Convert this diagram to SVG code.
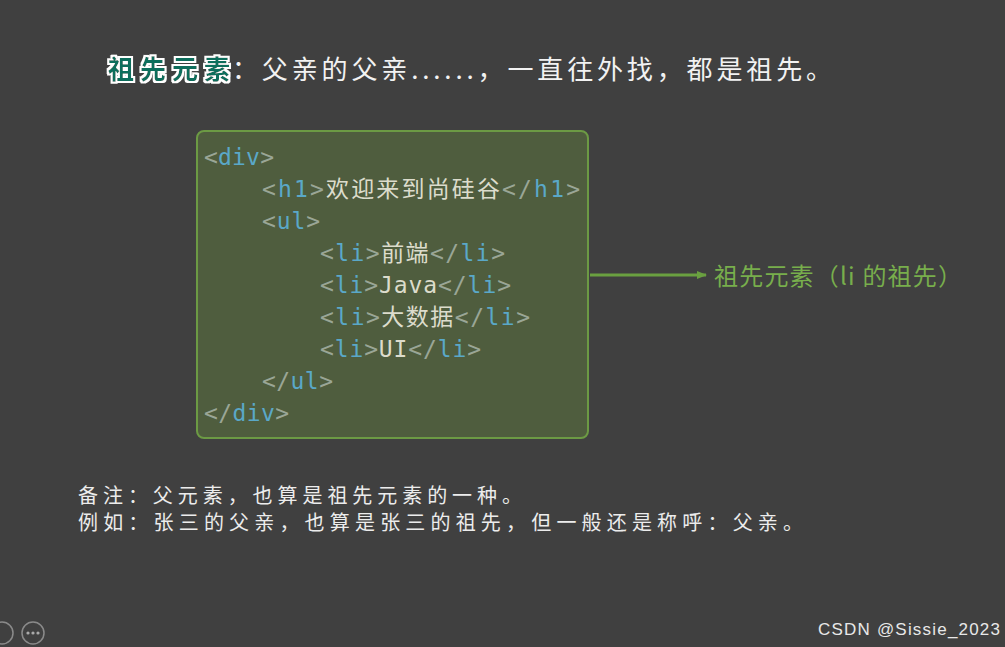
<svg xmlns="http://www.w3.org/2000/svg" width="1005" height="647" viewBox="0 0 1005 647">
<style>
.c{font-family:"DejaVu Sans Mono","Noto Sans CJK SC",monospace;font-size:23px}
.b{fill:#9aa696}.t{fill:#5aa8c8}.x{fill:#dcdccc}
.n{font-family:"Noto Sans CJK SC",sans-serif;font-size:20px;fill:#ececec}
</style>
<defs><marker id="ah" markerWidth="10" markerHeight="8" refX="9" refY="4" orient="auto" markerUnits="userSpaceOnUse"><path d="M0,0L10,4L0,8z" fill="#6aa040"/></marker>
<filter id="glow"><feMorphology in="SourceAlpha" operator="dilate" radius="2" result="d"/><feFlood flood-color="#ffffff"/><feComposite in2="d" operator="in" result="w"/><feMerge><feMergeNode in="w"/><feMergeNode in="SourceGraphic"/></feMerge></filter></defs>
<rect width="1005" height="647" fill="#404040"/>
<g id="title" font-family="Noto Sans CJK SC,sans-serif" font-size="26">
<text x="108" y="79" font-weight="bold" fill="#0a6e5c" filter="url(#glow)" textLength="122">祖先元素</text>
<text x="232" y="79" fill="#f2f2f2" textLength="600">：父亲的父亲......，一直往外找，都是祖先。</text>
</g>
<g id="codebox">
<rect x="197" y="131" width="391" height="307" rx="7" fill="#4f5d3e" stroke="#6c9a44" stroke-width="2"/>
<text class="c" x="204" y="165" textLength="70"><tspan class="b">&lt;</tspan><tspan class="t">div</tspan><tspan class="b">&gt;</tspan></text>
<text class="c" x="262" y="197" textLength="318"><tspan class="b">&lt;</tspan><tspan class="t">h1</tspan><tspan class="b">&gt;</tspan><tspan class="x">欢迎来到尚硅谷</tspan><tspan class="b">&lt;/</tspan><tspan class="t">h1</tspan><tspan class="b">&gt;</tspan></text>
<text class="c" x="262" y="229" textLength="58"><tspan class="b">&lt;</tspan><tspan class="t">ul</tspan><tspan class="b">&gt;</tspan></text>
<text class="c" x="320" y="261" textLength="185"><tspan class="b">&lt;</tspan><tspan class="t">li</tspan><tspan class="b">&gt;</tspan><tspan class="x">前端</tspan><tspan class="b">&lt;/</tspan><tspan class="t">li</tspan><tspan class="b">&gt;</tspan></text>
<text class="c" x="320" y="293" textLength="191"><tspan class="b">&lt;</tspan><tspan class="t">li</tspan><tspan class="b">&gt;</tspan><tspan class="x">Java</tspan><tspan class="b">&lt;/</tspan><tspan class="t">li</tspan><tspan class="b">&gt;</tspan></text>
<text class="c" x="320" y="325" textLength="210"><tspan class="b">&lt;</tspan><tspan class="t">li</tspan><tspan class="b">&gt;</tspan><tspan class="x">大数据</tspan><tspan class="b">&lt;/</tspan><tspan class="t">li</tspan><tspan class="b">&gt;</tspan></text>
<text class="c" x="320" y="357" textLength="161"><tspan class="b">&lt;</tspan><tspan class="t">li</tspan><tspan class="b">&gt;</tspan><tspan class="x">UI</tspan><tspan class="b">&lt;/</tspan><tspan class="t">li</tspan><tspan class="b">&gt;</tspan></text>
<text class="c" x="262" y="389" textLength="71"><tspan class="b">&lt;/</tspan><tspan class="t">ul</tspan><tspan class="b">&gt;</tspan></text>
<text class="c" x="204" y="421" textLength="85"><tspan class="b">&lt;/</tspan><tspan class="t">div</tspan><tspan class="b">&gt;</tspan></text>
</g>
<g id="connectors"><line x1="590" y1="275" x2="706" y2="275" stroke="#6aa040" stroke-width="3" marker-end="url(#ah)"/></g>
<g id="label"><text x="714" y="285" font-family="Noto Sans CJK SC,sans-serif" font-size="24" fill="#78ae4c" textLength="248">祖先元素（li 的祖先）</text></g>
<g id="notes">
<text class="n" x="78" y="503" textLength="444">备注：父元素，也算是祖先元素的一种。</text>
<text class="n" x="78" y="530" textLength="725">例如：张三的父亲，也算是张三的祖先，但一般还是称呼：父亲。</text>
</g>
<g id="ui" fill="none" stroke="#8a8a8a" stroke-width="1.5">
<circle cx="2" cy="633" r="11"/><circle cx="33" cy="633" r="11"/>
<g fill="#aaa" stroke="none"><circle cx="28" cy="633" r="1.6"/><circle cx="33" cy="633" r="1.6"/><circle cx="38" cy="633" r="1.6"/></g>
</g>
<text x="818" y="635" font-family="Liberation Sans,sans-serif" font-size="17" fill="#e8e8e8" textLength="182">CSDN @Sissie_2023</text>
</svg>
